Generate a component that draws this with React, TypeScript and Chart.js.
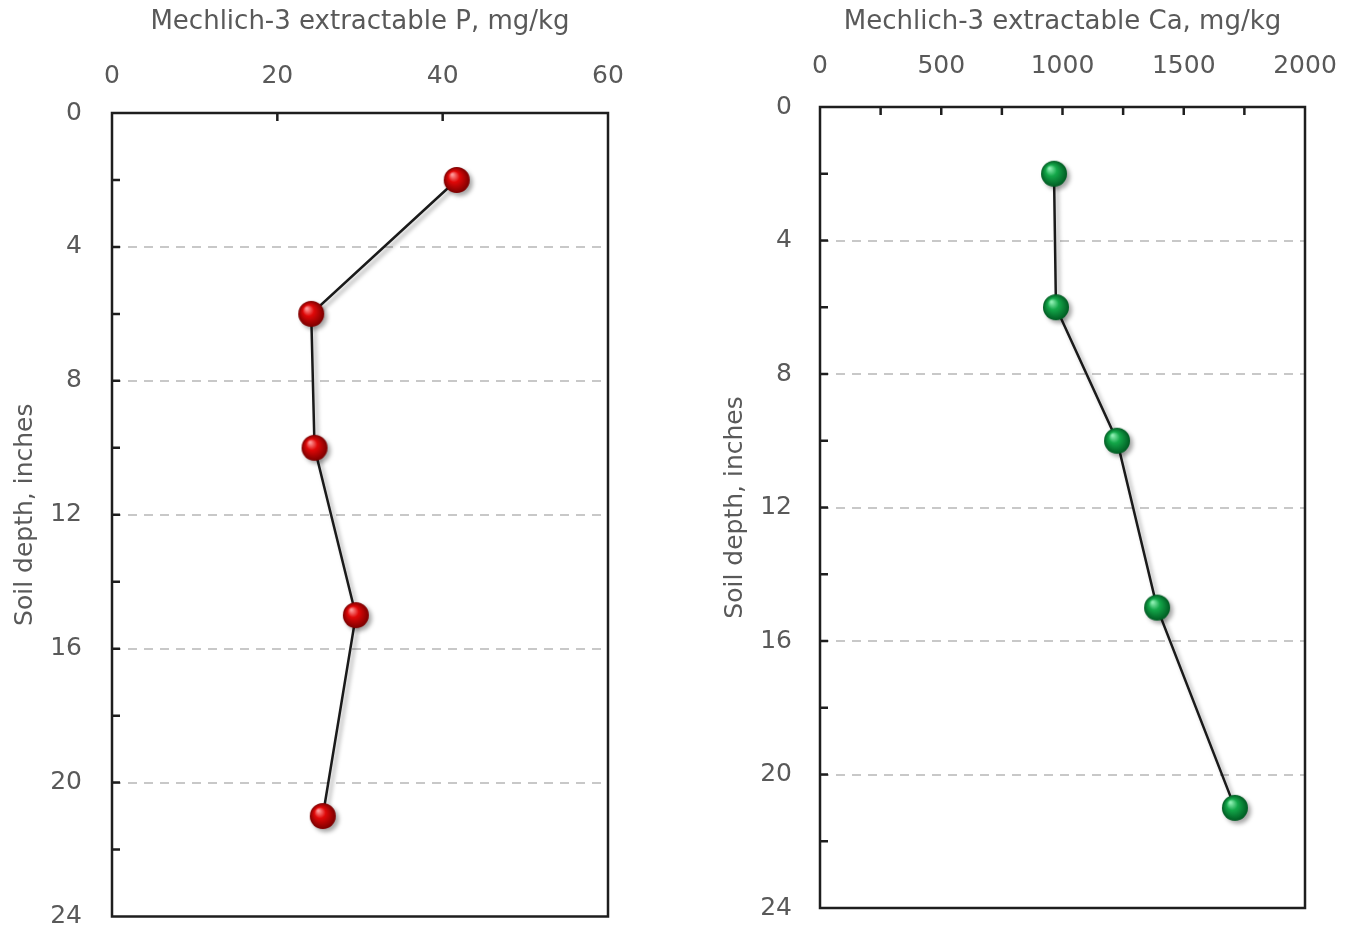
import React, { useEffect, useRef } from "react";
import { Chart, registerables } from "chart.js";

Chart.register(...registerables);

// ---- Data ----
const depthInches = [2, 6, 10, 15, 21];
const phosphorusMgKg = [41.7, 24.1, 24.5, 29.5, 25.5];
const calciumMgKg = [965, 973, 1225, 1390, 1711];
const depthMax = 24;
const depthStep = 2;
const depthLabelStep = 4;
const pMax = 60;
const pStep = 20;
const pLabelStep = 20;
const caMax = 2000;
const caStep = 250;
const caLabelStep = 500;

const FONT = "'DejaVu Sans', Verdana, sans-serif";
const TEXT = "#595959";

function makeSphere(light: string, mid: string, dark: string, r: number) {
  const c = document.createElement("canvas");
  const s = Math.ceil(r * 2) + 2;
  c.width = s;
  c.height = s;
  const g = c.getContext("2d")!;
  const cx = s / 2;
  const cy = s / 2;
  const grad = g.createRadialGradient(cx - r * 0.35, cy - r * 0.42, r * 0.05, cx, cy, r);
  grad.addColorStop(0, light);
  grad.addColorStop(0.4, mid);
  grad.addColorStop(1, dark);
  g.fillStyle = grad;
  g.beginPath();
  g.arc(cx, cy, r, 0, Math.PI * 2);
  g.fill();
  return c;
}

const framePlugin = {
  id: "frameTicks",
  beforeDatasetsDraw(chart: any) {
    const { ctx, chartArea: a, scales } = chart;
    ctx.save();
    ctx.strokeStyle = "#1e1e1e";
    ctx.lineWidth = 2.5;
    ctx.setLineDash([]);
    ctx.strokeRect(a.left, a.top, a.right - a.left, a.bottom - a.top);
    ctx.beginPath();
    scales.y.ticks.forEach((t: any) => {
      if (t.value > scales.y.min && t.value < scales.y.max) {
        const py = scales.y.getPixelForValue(t.value);
        ctx.moveTo(a.left, py);
        ctx.lineTo(a.left + 8, py);
      }
    });
    scales.x.ticks.forEach((t: any) => {
      if (t.value > scales.x.min && t.value < scales.x.max) {
        const px = scales.x.getPixelForValue(t.value);
        ctx.moveTo(px, a.top);
        ctx.lineTo(px, a.top + 8);
      }
    });
    ctx.stroke();
    ctx.restore();
    ctx.save();
    ctx.shadowColor = "rgba(0,0,0,0.35)";
    ctx.shadowOffsetX = 3;
    ctx.shadowOffsetY = 3;
    ctx.shadowBlur = 4;
  },
  afterDatasetsDraw(chart: any) {
    chart.ctx.restore();
  },
};

type Geom = {
  yAxisWidth: number;
  xAxisHeight: number;
  padRight: number;
  padBottom: number;
  yTitlePad: number;
  xTitlePad: number;
  xTickLen: number;
  yTickLen: number;
};

function makeConfig(
  values: number[],
  xMax: number,
  xStep: number,
  xLabelStep: number,
  xTitle: string,
  sphere: HTMLCanvasElement,
  geom: Geom
): any {
  return {
    type: "scatter",
    data: {
      datasets: [
        {
          data: values.map((v, i) => ({ x: v, y: depthInches[i] })),
          showLine: true,
          borderColor: "#1a1a1a",
          borderWidth: 2.5,
          pointStyle: sphere,
          pointRadius: 13,
          pointHoverRadius: 13,
          clip: false,
        },
      ],
    },
    options: {
      responsive: false,
      animation: false,
      events: [],
      layout: { padding: { left: 0, top: 0, right: geom.padRight, bottom: geom.padBottom } },
      plugins: { legend: { display: false }, tooltip: { enabled: false } },
      scales: {
        x: {
          type: "linear",
          position: "top",
          min: 0,
          max: xMax,
          afterFit: (s: any) => {
            s.height = geom.xAxisHeight;
          },
          ticks: {
            stepSize: xStep,
            autoSkip: false,
            maxRotation: 0,
            padding: 0,
            color: TEXT,
            font: { family: FONT, size: 25 },
            callback: (v: any) => (Math.round(v) % xLabelStep === 0 ? String(v) : ""),
          },
          grid: {
            display: true,
            drawOnChartArea: false,
            drawTicks: true,
            tickLength: geom.xTickLen,
            tickColor: "rgba(0,0,0,0)",
            color: "rgba(0,0,0,0)",
          },
          border: { display: false },
          title: {
            display: true,
            text: xTitle,
            color: TEXT,
            font: { family: FONT, size: 26 },
            padding: { top: geom.xTitlePad, bottom: 0 },
          },
        },
        y: {
          type: "linear",
          position: "left",
          reverse: true,
          min: 0,
          max: depthMax,
          afterFit: (s: any) => {
            s.width = geom.yAxisWidth;
          },
          ticks: {
            stepSize: depthStep,
            autoSkip: false,
            padding: 0,
            color: TEXT,
            font: { family: FONT, size: 25, lineHeight: 1 },
            callback: (v: any) => (Math.round(v) % depthLabelStep === 0 ? String(v) : ""),
          },
          grid: {
            drawTicks: true,
            tickLength: geom.yTickLen,
            tickColor: "rgba(0,0,0,0)",
            lineWidth: 2,
            color: (c: any) =>
              c.tick && c.tick.value % depthLabelStep === 0 && c.tick.value > 0 && c.tick.value < depthMax
                ? "#c8c8c8"
                : "rgba(0,0,0,0)",
          },
          border: { display: false, dash: [9, 7] },
          title: {
            display: true,
            text: "Soil depth, inches",
            color: TEXT,
            font: { family: FONT, size: 25 },
            padding: { top: geom.yTitlePad, bottom: 0 },
          },
        },
      },
    },
    plugins: [framePlugin],
  };
}

function Panel(props: { kind: "P" | "Ca" }) {
  const ref = useRef<HTMLCanvasElement | null>(null);
  useEffect(() => {
    if (!ref.current) return;
    let cfg: any;
    if (props.kind === "P") {
      const sphere = makeSphere("#ff9a9a", "#e00808", "#7a0000", 13);
      cfg = makeConfig(phosphorusMgKg, pMax, pStep, pLabelStep, "Mechlich-3 extractable P, mg/kg", sphere, {
        yAxisWidth: 112,
        xAxisHeight: 113,
        padRight: 70,
        padBottom: 14,
        yTitlePad: 10,
        xTitlePad: 7,
        xTickLen: 22,
        yTickLen: 30,
      });
    } else {
      const sphere = makeSphere("#8ff0b4", "#14a84a", "#005a22", 13);
      cfg = makeConfig(calciumMgKg, caMax, caStep, caLabelStep, "Mechlich-3 extractable Ca, mg/kg", sphere, {
        yAxisWidth: 142,
        xAxisHeight: 107,
        padRight: 51,
        padBottom: 24,
        yTitlePad: 42,
        xTitlePad: 7,
        xTickLen: 26,
        yTickLen: 28,
      });
    }
    const chart = new Chart(ref.current, cfg);
    return () => chart.destroy();
  }, [props.kind]);
  return <canvas ref={ref} width={678} height={932} style={{ display: "block" }} />;
}

export default function App() {
  return (
    <div style={{ position: "absolute", left: 0, top: 0, width: 1356, height: 932, background: "#fff" }}>
      <div style={{ position: "absolute", left: 0, top: 0, width: 678, height: 932 }}>
        <Panel kind="P" />
      </div>
      <div style={{ position: "absolute", left: 678, top: 0, width: 678, height: 932 }}>
        <Panel kind="Ca" />
      </div>
    </div>
  );
}
